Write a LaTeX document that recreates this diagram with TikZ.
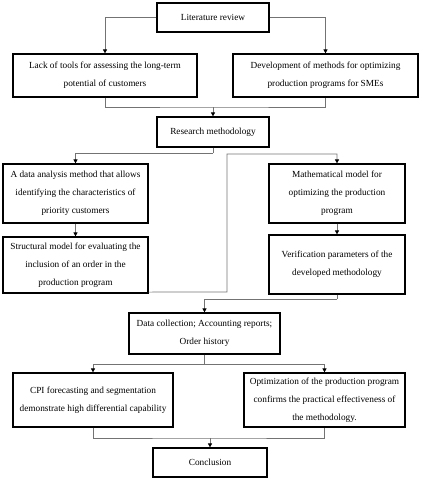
\documentclass[tikz,border=0pt]{standalone}
\usepackage{fontspec}
\setmainfont{Liberation Serif}
\usetikzlibrary{arrows.meta,calc}
\begin{document}
\begin{tikzpicture}[x=1pt,y=-1pt,
  box/.style={draw=black,line width=1.2pt,align=center,inner sep=0pt,
    font=\fontsize{9.3}{17.8}\selectfont},
  conn/.style={draw=black!55,line width=0.7pt},
  arr/.style={conn,-{Triangle[length=4pt,width=4pt,fill=black,color=black]}}]
\useasboundingbox (0,0) rectangle (421,480);
\newcommand{\bx}[6]{\node[box,minimum width=#4pt,minimum height=#5pt] (#1) at (#2,#3) {#6};}
\bx{lit}{213}{17.5}{112}{29}{Literature review}
\bx{lack}{105}{75.5}{184}{43}{Lack of tools for assessing the long-term\\potential of customers}
\bx{dev}{325.5}{75.5}{185}{43}{Development of methods for optimizing\\production programs for SMEs}
\bx{res}{213}{132}{112}{30}{Research methodology}
\bx{dam}{75.5}{193.5}{145}{59}{A data analysis method that allows\\identifying the characteristics of\\priority customers}
\bx{str}{75.5}{265}{145}{56}{Structural model for evaluating the\\inclusion of an order in the\\production program}
\bx{mat}{337}{193.5}{136}{59}{Mathematical model for\\optimizing the production\\program}
\bx{ver}{337}{264.5}{136}{59}{Verification parameters of the\\developed methodology}
\bx{dat}{204.5}{333.5}{151}{41}{Data collection; Accounting reports;\\Order history}
\bx{cpi}{93}{400}{160}{54}{CPI forecasting and segmentation\\demonstrate high differential capability}
\bx{opt}{324.5}{400}{161}{54}{Optimization of the production program\\confirms the practical effectiveness of\\the methodology.}
\bx{con}{210}{462.5}{114}{29}{Conclusion}
% connectors
\draw[arr] (lit.west) -| (lack.north);
\draw[arr] (lit.east) -| (dev.north);
\coordinate (j1) at (213,107);
\draw[conn] (lack.south) |- (j1) -| (dev.south);
\draw[arr] (j1) -- (res.north);
\coordinate (j2) at (213,153);
\draw[conn] (res.south) -- (j2);
\draw[arr] (j2) -| (dam.north);
\draw[arr] (dam.south) -- (str.north);
\coordinate (s1) at ($(str.south east)+(0,-1.5)$);
\draw[arr] (s1) -- (227,292) -- (227,154) -| (mat.north);
\draw[arr] (mat.south) -- (ver.north);
\coordinate (j3) at (337,299);
\draw[conn] (ver.south) -- (j3);
\draw[arr] (j3) -| (dat.north);
\coordinate (j4) at (204.5,364);
\draw[conn] (dat.south) -- (j4);
\draw[arr] (j4) -| (cpi.north);
\draw[arr] (j4) -| (opt.north);
\coordinate (j5) at (210,438);
\draw[conn] (cpi.south) |- (j5) -| (opt.south);
\draw[arr] (j5) -- (con.north);
\end{tikzpicture}
\end{document}
